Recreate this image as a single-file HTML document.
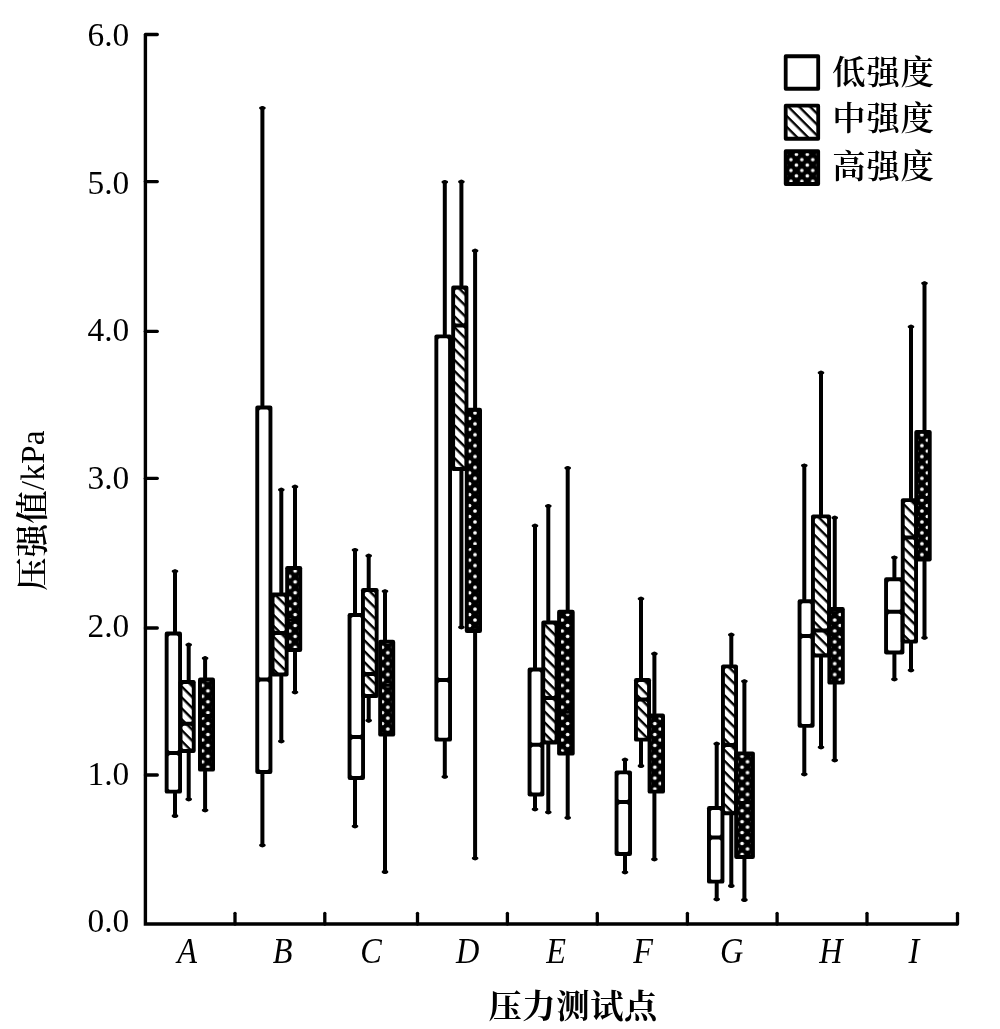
<!DOCTYPE html>
<html lang="zh"><head><meta charset="utf-8"><title>压力测试点 压强值</title>
<style>
html,body{margin:0;padding:0;background:#fff;}
body{width:1000px;height:1029px;overflow:hidden;}
svg{display:block;}
.num{font-family:"Liberation Serif","Noto Serif CJK SC",serif;font-size:34.4px;fill:#000;}
.it{font-family:"Liberation Serif","Noto Serif CJK SC",serif;font-size:35.5px;font-style:italic;fill:#000;}
.cjk{font-family:"Liberation Serif","Noto Serif CJK SC",serif;font-size:33.3px;fill:#000;}
</style></head><body>
<svg width="1000" height="1029" viewBox="0 0 1000 1029">
<defs>
<pattern id="hatchL" patternUnits="userSpaceOnUse" width="7.704" height="7.704" patternTransform="translate(0 3.1) rotate(45)">
<rect width="7.704" height="7.704" fill="#fff"/><rect x="-1" y="0" width="10" height="2.4" fill="#000"/>
</pattern>
</defs>
<rect width="1000" height="1029" fill="#fff"/>

<g stroke="#000" stroke-width="3.3" fill="none" stroke-linecap="round">
<path d="M145.4 34.5 V924.0 H957.5" stroke-linejoin="miter" stroke-linecap="butt" stroke-width="3.4"/>
<path d="M145.4 775.0 H157.3"/>
<path d="M145.4 628.0 H157.3"/>
<path d="M145.4 478.3 H157.3"/>
<path d="M145.4 331.3 H157.3"/>
<path d="M145.4 181.6 H157.3"/>
<path d="M145.4 34.5 H157.3"/>
<path d="M235 924 V913.3"/>
<path d="M324.8 924 V913.3"/>
<path d="M417.5 924 V913.3"/>
<path d="M507.4 924 V913.3"/>
<path d="M597.3 924 V913.3"/>
<path d="M687.4 924 V913.3"/>
<path d="M777.1 924 V913.3"/>
<path d="M867 924 V913.3"/>
<path d="M957.5 924 V913.3"/>
</g>
<text class="num" transform="translate(129.3 932.4) scale(0.972 1)" text-anchor="end">0.0</text>
<text class="num" transform="translate(129.3 784.6) scale(0.972 1)" text-anchor="end">1.0</text>
<text class="num" transform="translate(129.3 636.9) scale(0.972 1)" text-anchor="end">2.0</text>
<text class="num" transform="translate(129.3 489.1) scale(0.972 1)" text-anchor="end">3.0</text>
<text class="num" transform="translate(129.3 341.3) scale(0.972 1)" text-anchor="end">4.0</text>
<text class="num" transform="translate(129.3 193.5) scale(0.972 1)" text-anchor="end">5.0</text>
<text class="num" transform="translate(129.3 45.8) scale(0.972 1)" text-anchor="end">6.0</text>
<text class="it" transform="translate(187.2 963.3) scale(0.91 1)" text-anchor="middle">A</text>
<text class="it" transform="translate(282.6 963.3) scale(0.91 1)" text-anchor="middle">B</text>
<text class="it" transform="translate(370.9 963.3) scale(0.91 1)" text-anchor="middle">C</text>
<text class="it" transform="translate(467.6 963.3) scale(0.91 1)" text-anchor="middle">D</text>
<text class="it" transform="translate(556 963.3) scale(0.91 1)" text-anchor="middle">E</text>
<text class="it" transform="translate(643 963.3) scale(0.91 1)" text-anchor="middle">F</text>
<text class="it" transform="translate(731.6 963.3) scale(0.91 1)" text-anchor="middle">G</text>
<text class="it" transform="translate(831 963.3) scale(0.91 1)" text-anchor="middle">H</text>
<text class="it" transform="translate(914 963.3) scale(0.91 1)" text-anchor="middle">I</text>
<text class="cjk" style="font-weight:700;letter-spacing:0.6px" x="573.2" y="1017.5" text-anchor="middle">压力测试点</text>
<text class="cjk" transform="translate(43.9 510.5) rotate(-90)" text-anchor="middle" style="letter-spacing:0.2px"><tspan style="font-weight:600">压强值</tspan><tspan style="font-weight:400">/kPa</tspan></text>
<defs>
<pattern id="hatchG" patternUnits="userSpaceOnUse" width="7.704" height="7.704" patternTransform="translate(0 2.0) rotate(45)"><rect width="7.704" height="7.704" fill="#fff"/><rect x="-1" y="0" width="10" height="2.4" fill="#000"/></pattern>
<pattern id="dotsG" patternUnits="userSpaceOnUse" x="289.7" y="576.4" width="10.9" height="10.9"><rect width="10.9" height="10.9" fill="#000"/><circle cx="5.45" cy="5.45" r="1.85" fill="#fff"/><circle cx="0" cy="0" r="1.85" fill="#fff"/><circle cx="10.9" cy="0" r="1.85" fill="#fff"/><circle cx="0" cy="10.9" r="1.85" fill="#fff"/><circle cx="10.9" cy="10.9" r="1.85" fill="#fff"/></pattern>
</defs>
<g id="grpA">
<g stroke="#000" fill="none">
<path d="M175 571.2 V631.5 M175 793.6 V816.0" stroke-width="4.0" stroke-linecap="round"/>
<ellipse cx="175" cy="571.3" rx="1.8" ry="0.3" stroke-width="3"/><ellipse cx="175" cy="815.9" rx="1.8" ry="0.3" stroke-width="3"/>
<rect x="164.7" y="631.5" width="17.3" height="162.1" rx="2.2" fill="#000" stroke="none"/>
<rect x="168.6" y="635.4" width="9.5" height="115.6" rx="1.5" fill="#fff" stroke="none"/>
<rect x="168.6" y="755.0" width="9.5" height="34.7" rx="1.5" fill="#fff" stroke="none"/>
</g>
<g stroke="#000" fill="none">
<path d="M188.7 644.6 V680.1 M188.7 753.0 V799.4" stroke-width="4.0" stroke-linecap="round"/>
<ellipse cx="188.7" cy="644.7" rx="1.8" ry="0.3" stroke-width="3"/><ellipse cx="188.7" cy="799.3" rx="1.8" ry="0.3" stroke-width="3"/>
<rect x="178.6" y="680.1" width="17.1" height="72.9" rx="2.2" fill="#000" stroke="none"/>
<rect x="182.5" y="684.0" width="9.3" height="37.7" rx="1.5" fill="url(#hatchG)" stroke="none"/>
<rect x="182.5" y="725.7" width="9.3" height="23.4" rx="1.5" fill="url(#hatchG)" stroke="none"/>
</g>
<g stroke="#000" fill="none">
<path d="M205.1 658.1 V677.5 M205.1 771.6 V810.4" stroke-width="4.0" stroke-linecap="round"/>
<ellipse cx="205.1" cy="658.2" rx="1.8" ry="0.3" stroke-width="3"/><ellipse cx="205.1" cy="810.3" rx="1.8" ry="0.3" stroke-width="3"/>
<rect x="198.0" y="677.5" width="17.0" height="94.1" rx="2.2" fill="#000" stroke="none"/>
<rect x="201.9" y="681.4" width="9.2" height="32.7" rx="1.5" fill="url(#dotsG)" stroke="none"/>
<rect x="201.9" y="716.9" width="9.2" height="50.8" rx="1.5" fill="url(#dotsG)" stroke="none"/>
</g>
</g>
<g id="grpB">
<g stroke="#000" fill="none">
<path d="M262.4 108.0 V405.6 M262.4 774.0 V845.4" stroke-width="4.0" stroke-linecap="round"/>
<ellipse cx="262.4" cy="108.1" rx="1.8" ry="0.3" stroke-width="3"/><ellipse cx="262.4" cy="845.3" rx="1.8" ry="0.3" stroke-width="3"/>
<rect x="255.3" y="405.6" width="17.1" height="368.4" rx="2.2" fill="#000" stroke="none"/>
<rect x="259.2" y="409.5" width="9.3" height="268.0" rx="1.5" fill="#fff" stroke="none"/>
<rect x="259.2" y="681.5" width="9.3" height="88.6" rx="1.5" fill="#fff" stroke="none"/>
</g>
<g stroke="#000" fill="none">
<path d="M281.3 489.6 V592.5 M281.3 676.4 V741.4" stroke-width="4.0" stroke-linecap="round"/>
<ellipse cx="281.3" cy="489.7" rx="1.8" ry="0.3" stroke-width="3"/><ellipse cx="281.3" cy="741.3" rx="1.8" ry="0.3" stroke-width="3"/>
<rect x="270.6" y="592.5" width="18.0" height="83.9" rx="2.2" fill="#000" stroke="none"/>
<rect x="274.5" y="596.4" width="10.2" height="34.6" rx="1.5" fill="url(#hatchG)" stroke="none"/>
<rect x="274.5" y="635.0" width="10.2" height="37.5" rx="1.5" fill="url(#hatchG)" stroke="none"/>
</g>
<g stroke="#000" fill="none">
<path d="M295 486.6 V566.1 M295 652.0 V692.4" stroke-width="4.0" stroke-linecap="round"/>
<ellipse cx="295" cy="486.7" rx="1.8" ry="0.3" stroke-width="3"/><ellipse cx="295" cy="692.3" rx="1.8" ry="0.3" stroke-width="3"/>
<rect x="285.2" y="566.1" width="17.0" height="85.9" rx="2.2" fill="#000" stroke="none"/>
<rect x="289.1" y="570.0" width="9.2" height="48.6" rx="1.5" fill="url(#dotsG)" stroke="none"/>
<rect x="289.1" y="621.4" width="9.2" height="26.7" rx="1.5" fill="url(#dotsG)" stroke="none"/>
</g>
</g>
<g id="grpC">
<g stroke="#000" fill="none">
<path d="M355 550.0 V613.0 M355 780.0 V826.4" stroke-width="4.0" stroke-linecap="round"/>
<ellipse cx="355" cy="550.1" rx="1.8" ry="0.3" stroke-width="3"/><ellipse cx="355" cy="826.3" rx="1.8" ry="0.3" stroke-width="3"/>
<rect x="347.6" y="613.0" width="17.4" height="167.0" rx="2.2" fill="#000" stroke="none"/>
<rect x="351.5" y="616.9" width="9.6" height="118.1" rx="1.5" fill="#fff" stroke="none"/>
<rect x="351.5" y="739.0" width="9.6" height="37.1" rx="1.5" fill="#fff" stroke="none"/>
</g>
<g stroke="#000" fill="none">
<path d="M368.7 555.6 V588.0 M368.7 698.0 V720.7" stroke-width="4.0" stroke-linecap="round"/>
<ellipse cx="368.7" cy="555.7" rx="1.8" ry="0.3" stroke-width="3"/><ellipse cx="368.7" cy="720.6" rx="1.8" ry="0.3" stroke-width="3"/>
<rect x="361.0" y="588.0" width="17.6" height="110.0" rx="2.2" fill="#000" stroke="none"/>
<rect x="364.9" y="591.9" width="9.8" height="80.1" rx="1.5" fill="url(#hatchG)" stroke="none"/>
<rect x="364.9" y="676.0" width="9.8" height="18.1" rx="1.5" fill="url(#hatchG)" stroke="none"/>
</g>
<g stroke="#000" fill="none">
<path d="M385 591.2 V639.7 M385 736.6 V872.0" stroke-width="4.0" stroke-linecap="round"/>
<ellipse cx="385" cy="591.3" rx="1.8" ry="0.3" stroke-width="3"/><ellipse cx="385" cy="871.9" rx="1.8" ry="0.3" stroke-width="3"/>
<rect x="378.2" y="639.7" width="17.0" height="96.9" rx="2.2" fill="#000" stroke="none"/>
<rect x="382.1" y="643.6" width="9.2" height="40.3" rx="1.5" fill="url(#dotsG)" stroke="none"/>
<rect x="382.1" y="686.7" width="9.2" height="46.0" rx="1.5" fill="url(#dotsG)" stroke="none"/>
</g>
</g>
<g id="grpD">
<g stroke="#000" fill="none">
<path d="M444.8 182.0 V334.4 M444.8 741.6 V776.8" stroke-width="4.0" stroke-linecap="round"/>
<ellipse cx="444.8" cy="182.1" rx="1.8" ry="0.3" stroke-width="3"/><ellipse cx="444.8" cy="776.7" rx="1.8" ry="0.3" stroke-width="3"/>
<rect x="434.4" y="334.4" width="17.6" height="407.2" rx="2.2" fill="#000" stroke="none"/>
<rect x="438.3" y="338.3" width="9.8" height="339.7" rx="1.5" fill="#fff" stroke="none"/>
<rect x="438.3" y="682.0" width="9.8" height="55.7" rx="1.5" fill="#fff" stroke="none"/>
</g>
<g stroke="#000" fill="none">
<path d="M461.4 181.6 V285.6 M461.4 471.0 V627.4" stroke-width="4.0" stroke-linecap="round"/>
<ellipse cx="461.4" cy="181.7" rx="1.8" ry="0.3" stroke-width="3"/><ellipse cx="461.4" cy="627.3" rx="1.8" ry="0.3" stroke-width="3"/>
<rect x="451.2" y="285.6" width="17.2" height="185.4" rx="2.2" fill="#000" stroke="none"/>
<rect x="455.1" y="289.5" width="9.4" height="33.9" rx="1.5" fill="url(#hatchG)" stroke="none"/>
<rect x="455.1" y="327.4" width="9.4" height="139.7" rx="1.5" fill="url(#hatchG)" stroke="none"/>
</g>
<g stroke="#000" fill="none">
<path d="M475.1 250.6 V407.8 M475.1 633.0 V858.4" stroke-width="4.0" stroke-linecap="round"/>
<ellipse cx="475.1" cy="250.7" rx="1.8" ry="0.3" stroke-width="3"/><ellipse cx="475.1" cy="858.3" rx="1.8" ry="0.3" stroke-width="3"/>
<rect x="464.8" y="407.8" width="17.2" height="225.2" rx="2.2" fill="#000" stroke="none"/>
<rect x="468.7" y="411.7" width="9.4" height="133.4" rx="1.5" fill="url(#dotsG)" stroke="none"/>
<rect x="468.7" y="547.9" width="9.4" height="81.2" rx="1.5" fill="url(#dotsG)" stroke="none"/>
</g>
</g>
<g id="grpE">
<g stroke="#000" fill="none">
<path d="M535 525.6 V667.6 M535 796.5 V809.4" stroke-width="4.0" stroke-linecap="round"/>
<ellipse cx="535" cy="525.7" rx="1.8" ry="0.3" stroke-width="3"/><ellipse cx="535" cy="809.3" rx="1.8" ry="0.3" stroke-width="3"/>
<rect x="527.6" y="667.6" width="16.8" height="128.9" rx="2.2" fill="#000" stroke="none"/>
<rect x="531.5" y="671.5" width="9.0" height="71.2" rx="1.5" fill="#fff" stroke="none"/>
<rect x="531.5" y="746.7" width="9.0" height="45.9" rx="1.5" fill="#fff" stroke="none"/>
</g>
<g stroke="#000" fill="none">
<path d="M548.3 506.0 V620.6 M548.3 744.4 V812.4" stroke-width="4.0" stroke-linecap="round"/>
<ellipse cx="548.3" cy="506.1" rx="1.8" ry="0.3" stroke-width="3"/><ellipse cx="548.3" cy="812.3" rx="1.8" ry="0.3" stroke-width="3"/>
<rect x="541.3" y="620.6" width="17.2" height="123.8" rx="2.2" fill="#000" stroke="none"/>
<rect x="545.2" y="624.5" width="9.4" height="71.5" rx="1.5" fill="url(#hatchG)" stroke="none"/>
<rect x="545.2" y="700.0" width="9.4" height="40.5" rx="1.5" fill="url(#hatchG)" stroke="none"/>
</g>
<g stroke="#000" fill="none">
<path d="M567.7 468.0 V609.8 M567.7 755.6 V817.8" stroke-width="4.0" stroke-linecap="round"/>
<ellipse cx="567.7" cy="468.1" rx="1.8" ry="0.3" stroke-width="3"/><ellipse cx="567.7" cy="817.7" rx="1.8" ry="0.3" stroke-width="3"/>
<rect x="557.1" y="609.8" width="17.6" height="145.8" rx="2.2" fill="#000" stroke="none"/>
<rect x="561.0" y="613.7" width="9.8" height="97.2" rx="1.5" fill="url(#dotsG)" stroke="none"/>
<rect x="561.0" y="713.7" width="9.8" height="38.0" rx="1.5" fill="url(#dotsG)" stroke="none"/>
</g>
</g>
<g id="grpF">
<g stroke="#000" fill="none">
<path d="M625 759.6 V770.4 M625 856.0 V872.4" stroke-width="4.0" stroke-linecap="round"/>
<ellipse cx="625" cy="759.7" rx="1.8" ry="0.3" stroke-width="3"/><ellipse cx="625" cy="872.3" rx="1.8" ry="0.3" stroke-width="3"/>
<rect x="614.6" y="770.4" width="17.4" height="85.6" rx="2.2" fill="#000" stroke="none"/>
<rect x="618.5" y="774.3" width="9.6" height="25.7" rx="1.5" fill="#fff" stroke="none"/>
<rect x="618.5" y="804.0" width="9.6" height="48.1" rx="1.5" fill="#fff" stroke="none"/>
</g>
<g stroke="#000" fill="none">
<path d="M641 598.6 V678.0 M641 741.6 V766.0" stroke-width="4.0" stroke-linecap="round"/>
<ellipse cx="641" cy="598.7" rx="1.8" ry="0.3" stroke-width="3"/><ellipse cx="641" cy="765.9" rx="1.8" ry="0.3" stroke-width="3"/>
<rect x="634.0" y="678.0" width="17.0" height="63.6" rx="2.2" fill="#000" stroke="none"/>
<rect x="637.9" y="681.9" width="9.2" height="15.7" rx="1.5" fill="url(#hatchG)" stroke="none"/>
<rect x="637.9" y="701.6" width="9.2" height="36.1" rx="1.5" fill="url(#hatchG)" stroke="none"/>
</g>
<g stroke="#000" fill="none">
<path d="M654.4 653.6 V713.6 M654.4 793.6 V859.4" stroke-width="4.0" stroke-linecap="round"/>
<ellipse cx="654.4" cy="653.7" rx="1.8" ry="0.3" stroke-width="3"/><ellipse cx="654.4" cy="859.3" rx="1.8" ry="0.3" stroke-width="3"/>
<rect x="647.6" y="713.6" width="17.4" height="80.0" rx="2.2" fill="#000" stroke="none"/>
<rect x="651.5" y="717.5" width="9.6" height="72.2" rx="1.5" fill="url(#dotsG)" stroke="none"/>
</g>
</g>
<g id="grpG">
<g stroke="#000" fill="none">
<path d="M716.7 743.6 V806.0 M716.7 883.6 V899.4" stroke-width="4.0" stroke-linecap="round"/>
<ellipse cx="716.7" cy="743.7" rx="1.8" ry="0.3" stroke-width="3"/><ellipse cx="716.7" cy="899.3" rx="1.8" ry="0.3" stroke-width="3"/>
<rect x="707.0" y="806.0" width="17.4" height="77.6" rx="2.2" fill="#000" stroke="none"/>
<rect x="710.9" y="809.9" width="9.6" height="25.7" rx="1.5" fill="#fff" stroke="none"/>
<rect x="710.9" y="839.6" width="9.6" height="40.1" rx="1.5" fill="#fff" stroke="none"/>
</g>
<g stroke="#000" fill="none">
<path d="M731.3 634.6 V664.4 M731.3 815.2 V886.0" stroke-width="4.0" stroke-linecap="round"/>
<ellipse cx="731.3" cy="634.7" rx="1.8" ry="0.3" stroke-width="3"/><ellipse cx="731.3" cy="885.9" rx="1.8" ry="0.3" stroke-width="3"/>
<rect x="721.0" y="664.4" width="17.0" height="150.8" rx="2.2" fill="#000" stroke="none"/>
<rect x="724.9" y="668.3" width="9.2" height="74.7" rx="1.5" fill="url(#hatchG)" stroke="none"/>
<rect x="724.9" y="747.0" width="9.2" height="64.3" rx="1.5" fill="url(#hatchG)" stroke="none"/>
</g>
<g stroke="#000" fill="none">
<path d="M744.4 681.2 V751.4 M744.4 858.9 V900.0" stroke-width="4.0" stroke-linecap="round"/>
<ellipse cx="744.4" cy="681.3" rx="1.8" ry="0.3" stroke-width="3"/><ellipse cx="744.4" cy="899.9" rx="1.8" ry="0.3" stroke-width="3"/>
<rect x="734.2" y="751.4" width="20.7" height="107.5" rx="2.2" fill="#000" stroke="none"/>
<rect x="738.1" y="755.3" width="12.9" height="45.8" rx="1.5" fill="url(#dotsG)" stroke="none"/>
<rect x="738.1" y="803.9" width="12.9" height="51.1" rx="1.5" fill="url(#dotsG)" stroke="none"/>
</g>
</g>
<g id="grpH">
<g stroke="#000" fill="none">
<path d="M804.3 465.4 V599.3 M804.3 727.8 V774.4" stroke-width="4.0" stroke-linecap="round"/>
<ellipse cx="804.3" cy="465.5" rx="1.8" ry="0.3" stroke-width="3"/><ellipse cx="804.3" cy="774.3" rx="1.8" ry="0.3" stroke-width="3"/>
<rect x="797.6" y="599.3" width="17.0" height="128.5" rx="2.2" fill="#000" stroke="none"/>
<rect x="801.5" y="603.2" width="9.2" height="30.8" rx="1.5" fill="#fff" stroke="none"/>
<rect x="801.5" y="638.0" width="9.2" height="85.9" rx="1.5" fill="#fff" stroke="none"/>
</g>
<g stroke="#000" fill="none">
<path d="M821 372.6 V514.4 M821 657.4 V747.4" stroke-width="4.0" stroke-linecap="round"/>
<ellipse cx="821" cy="372.7" rx="1.8" ry="0.3" stroke-width="3"/><ellipse cx="821" cy="747.3" rx="1.8" ry="0.3" stroke-width="3"/>
<rect x="811.0" y="514.4" width="20.0" height="143.0" rx="2.2" fill="#000" stroke="none"/>
<rect x="814.9" y="518.3" width="12.2" height="110.1" rx="1.5" fill="url(#hatchG)" stroke="none"/>
<rect x="814.9" y="632.4" width="12.2" height="21.1" rx="1.5" fill="url(#hatchG)" stroke="none"/>
</g>
<g stroke="#000" fill="none">
<path d="M834.75 517.6 V607.1 M834.75 684.6 V760.4" stroke-width="4.0" stroke-linecap="round"/>
<ellipse cx="834.75" cy="517.7" rx="1.8" ry="0.3" stroke-width="3"/><ellipse cx="834.75" cy="760.3" rx="1.8" ry="0.3" stroke-width="3"/>
<rect x="827.4" y="607.1" width="17.4" height="77.5" rx="2.2" fill="#000" stroke="none"/>
<rect x="831.3" y="611.0" width="9.6" height="21.8" rx="1.5" fill="url(#dotsG)" stroke="none"/>
<rect x="831.3" y="635.6" width="9.6" height="45.1" rx="1.5" fill="url(#dotsG)" stroke="none"/>
</g>
</g>
<g id="grpI">
<g stroke="#000" fill="none">
<path d="M894.4 557.4 V577.3 M894.4 654.4 V679.4" stroke-width="4.0" stroke-linecap="round"/>
<ellipse cx="894.4" cy="557.5" rx="1.8" ry="0.3" stroke-width="3"/><ellipse cx="894.4" cy="679.3" rx="1.8" ry="0.3" stroke-width="3"/>
<rect x="884.1" y="577.3" width="20.3" height="77.1" rx="2.2" fill="#000" stroke="none"/>
<rect x="888.0" y="581.2" width="12.5" height="28.5" rx="1.5" fill="#fff" stroke="none"/>
<rect x="888.0" y="613.7" width="12.5" height="36.8" rx="1.5" fill="#fff" stroke="none"/>
</g>
<g stroke="#000" fill="none">
<path d="M911 326.6 V498.2 M911 643.6 V670.4" stroke-width="4.0" stroke-linecap="round"/>
<ellipse cx="911" cy="326.7" rx="1.8" ry="0.3" stroke-width="3"/><ellipse cx="911" cy="670.3" rx="1.8" ry="0.3" stroke-width="3"/>
<rect x="900.8" y="498.2" width="17.2" height="145.4" rx="2.2" fill="#000" stroke="none"/>
<rect x="904.7" y="502.1" width="9.4" height="33.5" rx="1.5" fill="url(#hatchG)" stroke="none"/>
<rect x="904.7" y="539.6" width="9.4" height="100.1" rx="1.5" fill="url(#hatchG)" stroke="none"/>
</g>
<g stroke="#000" fill="none">
<path d="M924.5 283.2 V429.9 M924.5 561.5 V637.8" stroke-width="4.0" stroke-linecap="round"/>
<ellipse cx="924.5" cy="283.3" rx="1.8" ry="0.3" stroke-width="3"/><ellipse cx="924.5" cy="637.7" rx="1.8" ry="0.3" stroke-width="3"/>
<rect x="914.3" y="429.9" width="17.4" height="131.6" rx="2.2" fill="#000" stroke="none"/>
<rect x="918.2" y="433.8" width="9.6" height="62.2" rx="1.5" fill="url(#dotsG)" stroke="none"/>
<rect x="918.2" y="498.8" width="9.6" height="58.8" rx="1.5" fill="url(#dotsG)" stroke="none"/>
</g>
</g>
<g stroke="#000" stroke-width="3.8" stroke-linejoin="round">
<rect x="785.7" y="56.25" width="32.5" height="32.5" fill="#fff"/>
<rect x="785.7" y="105.7" width="32.5" height="33.05" fill="url(#hatchL)"/>
<rect x="785.7" y="151.25" width="32.5" height="32.75" fill="url(#dotsL)"/>
</g>
<defs><pattern id="dotsL" patternUnits="userSpaceOnUse" x="790.95" y="148.85" width="10.89" height="10.8"><rect width="10.89" height="10.8" fill="#000"/><circle cx="5.445" cy="5.4" r="1.8" fill="#fff"/><circle cx="0" cy="0" r="1.8" fill="#fff"/><circle cx="10.89" cy="0" r="1.8" fill="#fff"/><circle cx="0" cy="10.8" r="1.8" fill="#fff"/><circle cx="10.89" cy="10.8" r="1.8" fill="#fff"/></pattern></defs>
<text class="cjk" style="font-weight:600;letter-spacing:0.9px" x="832.2" y="83.5">低强度</text>
<text class="cjk" style="font-weight:600;letter-spacing:0.9px" x="832.2" y="130.2">中强度</text>
<text class="cjk" style="font-weight:600;letter-spacing:0.9px" x="832.2" y="177.8">高强度</text>
</svg></body></html>
